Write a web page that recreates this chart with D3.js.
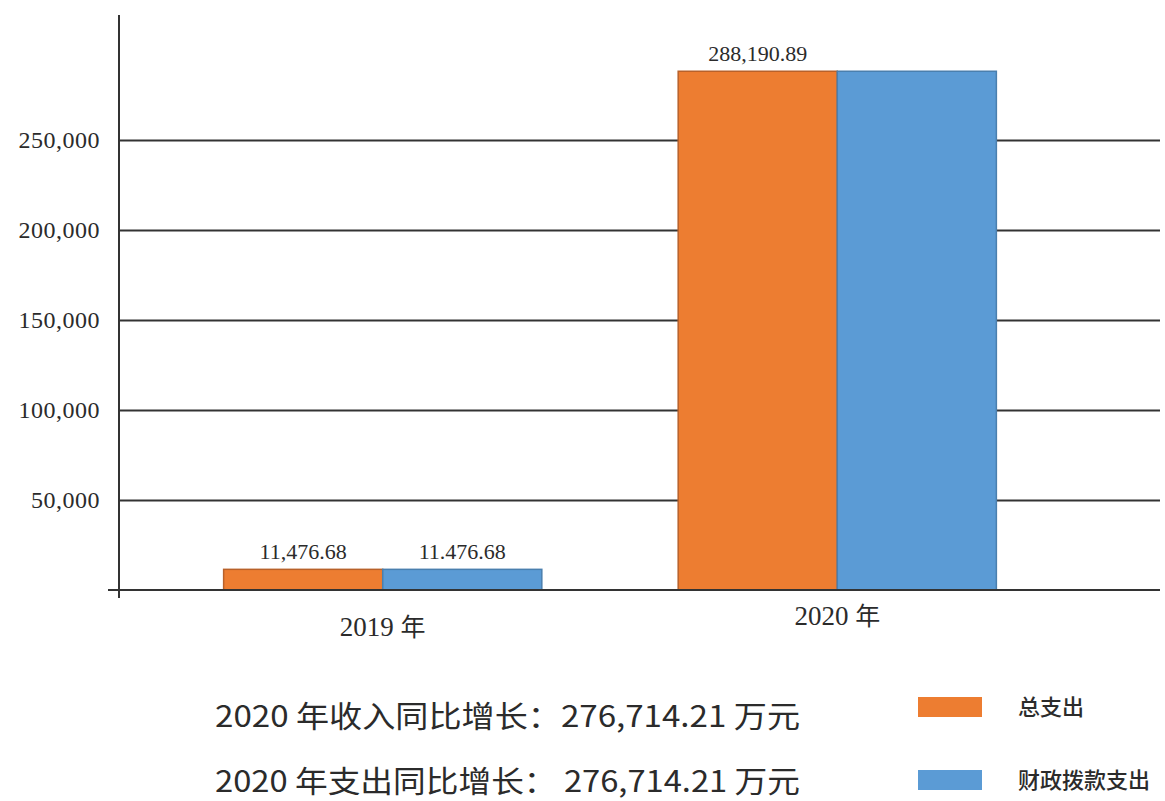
<!DOCTYPE html>
<html>
<head>
<meta charset="utf-8">
<script src="https://cdn.jsdelivr.net/npm/d3@7"></script>
<style>
	body { margin: 0; background: #fff; }
	svg text { fill: #2b2b2b; }
	.num { font-family: "Liberation Serif", "DejaVu Serif", serif; }
	.cjk { font-family: "Noto Sans CJK SC", "Noto Sans", sans-serif; }
</style>
</head>
<body>
<svg id="chart" width="1165" height="801"></svg>
<script>
// data
var years = ['2019', '2020'];
var series = ['总支出', '财政拨款支出'];
var totalSpend = [11476.68, 288190.89];
var fiscalSpend = [11476.68, 288190.89];
var totalLabels = ['11,476.68', '288,190.89'];
var fiscalLabels = ['11.476.68', ''];
var yTicks = [50000, 100000, 150000, 200000, 250000];
var notes = [
	'2020 年收入同比增长：276,714.21 万元',
	'2020 年支出同比增长：  276,714.21 万元'
];
var colors = ['#ED7D31', '#5B9BD5'];
var strokes = ['#b8612a', '#4a7fae'];

var svg = d3.select('#chart');

var y = d3.scaleLinear()
	.domain([0, 300000])
	.range([590, 50]);

var x = d3.scaleBand()
	.domain(years)
	.range([110, 1110])
	.paddingInner(0.3)
	.paddingOuter(0.25);

var xs = d3.scaleBand()
	.domain(series)
	.range([0, x.bandwidth()]);

//gridlines
var grid = svg.append('g')
	.attr('transform', 'translate(120,0)')
	.call(d3.axisLeft(y).tickValues(yTicks).tickSize(-1040).tickFormat(''));
grid.select('.domain').remove();
grid.selectAll('line').attr('stroke', '#333').attr('stroke-width', 2);

//tick labels
svg.append('g')
	.selectAll('text')
	.data(yTicks)
	.enter()
	.append('text')
	.attr('class', 'num')
	.attr('x', 100)
	.attr('y', (d)=>y(d))
	.attr('dy', '0.35em')
	.attr('text-anchor', 'end')
	.style('font-size', '24px')
	.style('letter-spacing', '0.5px')
	.text(d3.format(','));

//bars
var rows = years.map(function(yr, i){
	return [
		{year : yr, s : series[0], val : totalSpend[i], label : totalLabels[i], c : 0},
		{year : yr, s : series[1], val : fiscalSpend[i], label : fiscalLabels[i], c : 1}
	];
});

var groups = svg.append('g')
	.selectAll('g')
	.data(rows)
	.enter()
	.append('g')
	.attr('transform', (d)=>`translate(${x(d[0].year)},0)`);

groups.selectAll('rect')
	.data((d)=>d)
	.enter()
	.append('rect')
	.attr('x', (d)=>xs(d.s))
	.attr('y', (d)=>y(d.val))
	.attr('width', xs.bandwidth())
	.attr('height', (d)=>y(0) - y(d.val))
	.attr('fill', (d)=>colors[d.c])
	.attr('stroke', (d)=>strokes[d.c])
	.attr('stroke-width', 1.5);

groups.selectAll('text')
	.data((d)=>d)
	.enter()
	.append('text')
	.attr('class', 'num')
	.attr('x', (d)=>xs(d.s) + xs.bandwidth() / 2)
	.attr('y', (d)=>y(d.val) - 10)
	.attr('text-anchor', 'middle')
	.style('font-size', '22px')
	.text((d)=>d.label);

//axes lines
svg.append('line')
	.attr('x1', 119).attr('x2', 119)
	.attr('y1', 15).attr('y2', 598)
	.attr('stroke', '#333').attr('stroke-width', 2);

svg.append('line')
	.attr('x1', 108).attr('x2', 1160)
	.attr('y1', y(0)).attr('y2', y(0))
	.attr('stroke', '#333').attr('stroke-width', 2);

//category labels
svg.append('g')
	.selectAll('text')
	.data(years)
	.enter()
	.append('text')
	.attr('x', (d)=>x(d) + x.bandwidth() / 2)
	.attr('y', (d, i)=> i === 0 ? 636 : 625)
	.attr('text-anchor', 'middle')
	.style('font-size', '27px')
	.each(function(d){
		var t = d3.select(this);
		t.append('tspan').attr('class', 'num').text(d + ' ');
		t.append('tspan').attr('class', 'cjk').style('font-size', '25px').text('年');
	});

//notes
svg.append('g')
	.selectAll('text')
	.data(notes)
	.enter()
	.append('text')
	.attr('class', 'cjk')
	.attr('x', 215)
	.attr('y', (d, i)=>727 + i * 65)
	.attr('textLength', 585)
	.attr('lengthAdjust', 'spacingAndGlyphs')
	.style('font-size', '30px')
	.text((d)=>d);

//legend
var legend = svg.append('g')
	.selectAll('g')
	.data(series)
	.enter()
	.append('g')
	.attr('transform', (d, i)=>`translate(918,${697 + i * 73})`);

legend.append('rect')
	.attr('width', 64)
	.attr('height', 20)
	.attr('fill', (d, i)=>colors[i]);

legend.append('text')
	.attr('class', 'cjk')
	.attr('x', 100)
	.attr('y', 10)
	.attr('dy', '0.35em')
	.style('font-size', '22px')
	.style('font-weight', 500)
	.text((d)=>d);
</script>
</body>
</html>
